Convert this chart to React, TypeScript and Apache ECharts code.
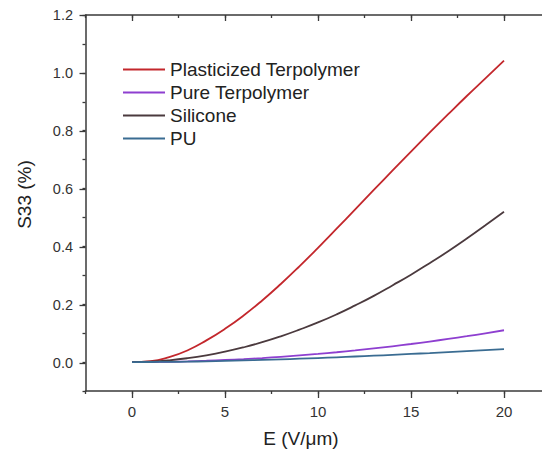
import React, { useEffect, useRef } from "react";
import * as echarts from "echarts";

const E_VALUES = [0, 1, 2, 3, 4, 5, 6, 7, 8, 9, 10, 11, 12, 13, 14, 15, 16, 17, 18, 19, 20];
const PLASTICIZED = [0, 0.003, 0.017, 0.041, 0.075, 0.115, 0.161, 0.213, 0.27, 0.331, 0.395, 0.461, 0.528, 0.595, 0.662, 0.728, 0.793, 0.857, 0.92, 0.981, 1.042];
const PURE = [0, 0.0003, 0.0012, 0.0026, 0.0046, 0.0072, 0.0102, 0.0139, 0.0182, 0.0229, 0.0282, 0.034, 0.0403, 0.0472, 0.0546, 0.0625, 0.071, 0.08, 0.0894, 0.0995, 0.11];
const SILICONE = [0, 0.0016, 0.0062, 0.0135, 0.0234, 0.0359, 0.051, 0.0686, 0.089, 0.112, 0.137, 0.165, 0.196, 0.229, 0.265, 0.302, 0.342, 0.383, 0.427, 0.473, 0.52];
const PU = [0, 0.0002, 0.0007, 0.0015, 0.0026, 0.004, 0.0056, 0.0074, 0.0094, 0.0116, 0.014, 0.0165, 0.0192, 0.022, 0.025, 0.0281, 0.0313, 0.0346, 0.038, 0.0415, 0.045];

const SERIES_NAMES = ["Plasticized Terpolymer", "Pure Terpolymer", "Silicone", "PU"];
const SERIES_DATA = [PLASTICIZED, PURE, SILICONE, PU];
const SERIES_COLORS = ["#c3272c", "#8e3fd0", "#4b3a3e", "#3a6c92"];

const X_LABELS_INTERVAL = 5;
const Y_LABELS_INTERVAL = 0.2;

const FONT = "'Liberation Sans', Arial, sans-serif";
const AXIS_COLOR = "#3a3a3a";

export default function App() {
  const ref = useRef<HTMLDivElement>(null);

  useEffect(() => {
    if (!ref.current) return;
    const chart = echarts.init(ref.current, undefined, { renderer: "svg" });

    const series = SERIES_NAMES.map((name, i) => ({
      name,
      type: "line",
      xAxisIndex: 0,
      yAxisIndex: 0,
      showSymbol: false,
      symbol: "none",
      smooth: true,
      color: SERIES_COLORS[i],
      lineStyle: { color: SERIES_COLORS[i], width: 1.8 },
      itemStyle: { color: SERIES_COLORS[i] },
      data: E_VALUES.map((e, j) => [e, SERIES_DATA[i][j]]),
    }));

    const tickStyle = { color: AXIS_COLOR, width: 1.3 };
    const lineStyle = { color: AXIS_COLOR, width: 1.5 };

    const option = {
      animation: false,
      textStyle: { fontFamily: FONT },
      grid: [
        { left: 85.5, top: 15, width: 465, height: 377, containLabel: false },
        { left: 132, top: 15, width: 372, height: 348, containLabel: false },
      ],
      legend: {
        orient: "vertical",
        left: 118,
        top: 55,
        itemWidth: 42,
        itemHeight: 2,
        itemGap: 4,
        icon: "rect",
        textStyle: { fontSize: 19, color: "#222", fontFamily: FONT },
        data: SERIES_NAMES,
      },
      xAxis: [
        {
          gridIndex: 0,
          type: "value",
          position: "bottom",
          min: -2.5,
          max: 22.5,
          interval: 2.5,
          axisLine: { show: true, onZero: false, lineStyle },
          axisTick: { show: true, inside: false, length: 3, lineStyle: tickStyle },
          axisLabel: { show: false },
          splitLine: { show: false },
          name: "E (V/μm)",
          nameLocation: "middle",
          nameGap: 38,
          nameTextStyle: { fontSize: 19, color: "#222", fontFamily: FONT, padding: [0, 34, 0, 0] },
        },
        {
          gridIndex: 0,
          type: "value",
          position: "top",
          min: -2.5,
          max: 22.5,
          interval: 2.5,
          axisLine: { show: true, onZero: false, lineStyle },
          axisTick: { show: true, inside: true, length: 3, lineStyle: tickStyle },
          axisLabel: { show: false },
          splitLine: { show: false },
        },
        {
          gridIndex: 1,
          type: "value",
          position: "bottom",
          offset: 29,
          min: 0,
          max: 20,
          interval: X_LABELS_INTERVAL,
          axisLine: { show: false, onZero: false },
          axisTick: { show: true, inside: false, length: 6, lineStyle: tickStyle },
          axisLabel: { show: true, fontSize: 15, color: "#333", margin: 12, fontFamily: FONT },
          splitLine: { show: false },
        },
        {
          gridIndex: 1,
          type: "value",
          position: "top",
          min: 0,
          max: 20,
          interval: X_LABELS_INTERVAL,
          axisLine: { show: false, onZero: false },
          axisTick: { show: true, inside: true, length: 6, lineStyle: tickStyle },
          axisLabel: { show: false },
          splitLine: { show: false },
        },
      ],
      yAxis: [
        {
          gridIndex: 0,
          type: "value",
          position: "left",
          min: -0.1,
          max: 1.2,
          interval: 0.1,
          axisLine: { show: true, onZero: false, lineStyle },
          axisTick: { show: true, inside: false, length: 3, lineStyle: tickStyle },
          axisLabel: { show: false },
          splitLine: { show: false },
          name: "S33 (%)",
          nameLocation: "middle",
          nameGap: 52,
          nameTextStyle: { fontSize: 19, color: "#222", fontFamily: FONT, padding: [0, 0, 0, 17] },
        },
        {
          gridIndex: 1,
          type: "value",
          position: "left",
          offset: 46.5,
          min: 0,
          max: 1.2,
          interval: Y_LABELS_INTERVAL,
          axisLine: { show: false, onZero: false },
          axisTick: { show: true, inside: false, length: 6, lineStyle: tickStyle },
          axisLabel: {
            show: true,
            fontSize: 14.5,
            color: "#333",
            margin: 12.5,
            fontFamily: FONT,
            formatter: (v: number) => v.toFixed(1),
          },
          splitLine: { show: false },
        },
      ],
      series,
    };

    chart.setOption(option as any);
    return () => chart.dispose();
  }, []);

  return (
    <div
      style={{
        position: "fixed",
        left: 0,
        top: 0,
        width: 542,
        height: 453,
        overflow: "hidden",
        background: "#fff",
      }}
    >
      <div ref={ref} style={{ width: 560, height: 453 }} />
    </div>
  );
}
